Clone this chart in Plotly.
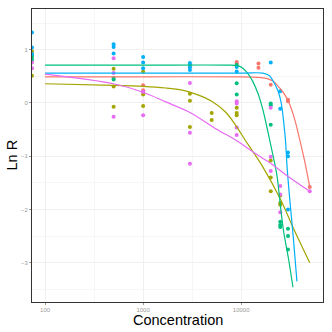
import numpy as np
import plotly.graph_objects as go

# ---------------- data ----------------
groups = ["A", "B", "C", "D", "E"]
colors = ["#F8766D", "#A3A500", "#00BF7D", "#00B0F6", "#E76BF3"]

# observed points (concentration 0 = control, drawn at the left edge like -Inf)
pts_conc = {
    "A": [1000, 1000, 1000, 9000, 9000, 15000, 15000, 20000, 30000, 30000, 50000],
    "B": [0, 0, 500, 500, 500, 1000, 1000, 1000, 3000, 3000, 3000, 5000, 5000,
          9000, 9000, 9000, 20000, 20000, 20000, 25000, 25000, 25000],
    "C": [0, 0, 0, 500, 500, 3000, 9000, 9000, 9000, 20000, 20000, 20000,
          25000, 25000, 25000, 30000, 30000, 30000],
    "D": [0, 0, 0, 500, 500, 500, 1000, 1000, 1000, 3000, 3000, 3000, 9000, 9000,
          20000, 25000, 25000, 30000, 30000, 30000],
    "E": [0, 0, 500, 500, 500, 1000, 1000, 3000, 3000, 3000, 9000, 9000, 9000, 9000,
          20000, 20000, 20000, 25000, 25000, 25000, 50000],
}
pts_lnr = {
    "A": [0.33, 0.24, 0.20, 0.77, 0.74, 0.74, 0.66, 0.34, 0.06, 0.03, -1.58],
    "B": [0.97, 0.51, 0.64, 0.31, -0.07, 0.59, 0.16, -0.06, 0.17, 0.04, -0.45, -0.19, -0.32,
          -0.09, -0.19, -0.23, -1.08, -1.40, -1.66, -1.74, -1.88, -1.91],
    "C": [0.86, 0.81, 0.90, 0.47, 0.44, 0.71, 0.71, 0.37, 0.16, -0.01, -0.045, -0.41,
          -2.23, -2.29, -2.33, -2.36, -2.50, -2.75],
    "D": [1.32, 1.04, 0.92, 1.10, 1.05, 0.93, 0.86, 0.76, 0.65, 0.75, 0.67, 0.62, 0.675, 0.59,
          0.76, 0.22, -0.11, -0.93, -1.00, -2.00],
    "E": [0.76, 0.65, 0.84, 0.56, -0.26, 0.21, -0.23, 0.375, -0.56, -1.14, 0.03, -0.01, -0.46, -0.60,
          -0.09, -1.01, -1.28, -1.56, -2.05, -1.72, -1.66],
}

# fitted curves
fit_conc = {
    "A": [100, 1000, 10000, 15000, 18000, 21000, 24400, 27700, 31100, 35000, 39400, 44200, 50000],
    "B": [100, 500, 1000, 1700, 2500, 3500, 5000, 7000, 9000, 11000, 13000, 16600, 25000, 35000, 50000],
    "C": [100, 1000, 7000, 9250, 10400, 11700, 13150, 14800, 16600, 18000, 19800, 23100, 25000, 27000, 30400, 33700],
    "D": [100, 10000, 16600, 19450, 21000, 23700, 25700, 27000, 28300, 29400, 31600, 34000, 37000],
    "E": [100, 500, 1000, 1700, 3000, 5560, 9000, 14200, 19450, 31600, 50000],
}
fit_lnr = {
    "A": [0.49, 0.49, 0.49, 0.48, 0.46, 0.41, 0.29, 0.16, -0.02, -0.30, -0.68, -1.08, -1.58],
    "B": [0.36, 0.33, 0.31, 0.28, 0.24, 0.16, 0.03, -0.18, -0.45, -0.70, -0.90, -1.20, -1.80, -2.40, -3.00],
    "C": [0.71, 0.71, 0.71, 0.70, 0.65, 0.55, 0.40, 0.18, -0.12, -0.40, -0.75, -1.35, -1.90, -2.40, -2.93, -3.46],
    "D": [0.56, 0.56, 0.56, 0.51, 0.42, 0.23, -0.02, -0.33, -0.71, -1.22, -1.90, -2.53, -3.35],
    "E": [0.54, 0.36, 0.20, 0.02, -0.18, -0.49, -0.71, -0.96, -1.12, -1.41, -1.66],
}

x_ticks = [100, 1000, 10000]
x_tick_text = ["100", "1000", "10000"]
y_ticks = [-3, -2, -1, 0, 1]
y_tick_text = ["\u22123", "\u22122", "\u22121", "0", "1"]

# ---------------- figure ----------------
x_log_range = [1.867, 4.834]
y_range = [-3.737, 1.763]
x_min = 10 ** x_log_range[0]

fig = go.Figure()
for g, c in zip(groups, colors):
    xs = [x_min if v == 0 else v for v in pts_conc[g]]
    fig.add_trace(go.Scatter(x=xs, y=pts_lnr[g], mode="markers",
                             marker=dict(color=c, size=4, line=dict(width=0)),
                             showlegend=False, hoverinfo="skip"))
for g, c in zip(groups, colors):
    fig.add_trace(go.Scatter(x=fit_conc[g], y=fit_lnr[g], mode="lines",
                             line=dict(color=c, width=1.2, shape="spline", smoothing=0.9),
                             showlegend=False, hoverinfo="skip"))

tick_font = dict(family="Liberation Sans, Arial, sans-serif", size=6, color="#9a9a9a")
title_font = dict(family="Liberation Sans, Arial, sans-serif", size=14.5, color="#000000")

fig.update_layout(
    width=332, height=332,
    margin=dict(l=32, r=9, t=9, b=30, pad=0, autoexpand=False),
    paper_bgcolor="white", plot_bgcolor="white",
    xaxis=dict(
        type="log", range=x_log_range, automargin=False,
        tickmode="array", tickvals=x_ticks, ticktext=x_tick_text,
        tickfont=tick_font, ticks="outside", ticklen=2, tickcolor="#9a9a9a", tickwidth=0.8,
        showgrid=True, gridcolor="#f0f0f0", gridwidth=0.8,
        minor=dict(tickvals=[316.2, 3162], showgrid=True, gridcolor="#f6f6f6", gridwidth=0.6),
        showline=True, linecolor="#333333", linewidth=1, mirror=True,
        zeroline=False,
    ),
    yaxis=dict(
        range=y_range, automargin=False,
        tickmode="array", tickvals=y_ticks, ticktext=y_tick_text,
        tickfont=tick_font, ticks="outside", ticklen=2, tickcolor="#9a9a9a", tickwidth=0.8,
        showgrid=True, gridcolor="#f0f0f0", gridwidth=0.8,
        minor=dict(tickvals=[-3.5, -2.5, -1.5, -0.5, 0.5, 1.5], showgrid=True,
                   gridcolor="#f6f6f6", gridwidth=0.6),
        showline=True, linecolor="#333333", linewidth=1, mirror=True,
        zeroline=False,
    ),
    annotations=[
        dict(text="Concentration", xref="paper", yref="paper", x=0.5, y=0,
             xanchor="center", yanchor="middle", yshift=-18, showarrow=False, font=title_font),
        dict(text="Ln R", xref="paper", yref="paper", x=0, y=0.5, textangle=-90,
             xanchor="center", yanchor="middle", xshift=-21, showarrow=False, font=title_font),
    ],
)

fig.write_html("out.html", config={"displayModeBar": False},
               post_script="document.body.style.margin='0px';document.body.style.overflow='hidden';")
